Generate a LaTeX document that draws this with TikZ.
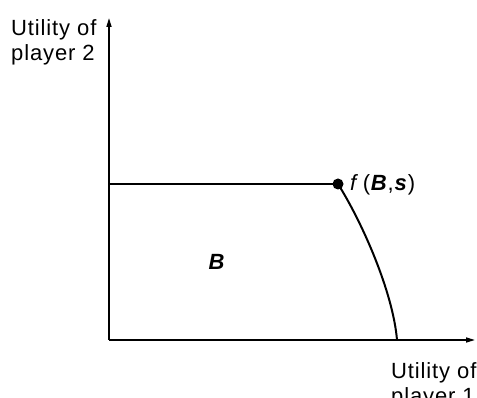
\documentclass[tikz,border=0pt]{standalone}
\usepackage{fontspec}
\setmainfont{Liberation Sans}[LetterSpace=4]
\usetikzlibrary{arrows.meta}
\begin{document}
\begin{tikzpicture}[x=1pt,y=-1pt,
  axis/.style={line width=1.5pt,-{Triangle[length=9pt,width=5pt]}},
  frontier/.style={line width=2pt},
  lbl/.style={font=\fontsize{22}{25}\selectfont,align=left,inner sep=0pt}]
\useasboundingbox (0,0) rectangle (477,398);
\coordinate (O) at (109,340);
\coordinate (ytip) at (109,18);
\coordinate (xtip) at (475,340);
\coordinate (ystart) at (109,184);
\coordinate (xend) at (397,340);
\draw[axis] (O) -- (ytip);
\draw[axis] (O) -- (xtip);
\node[circle,fill=black,inner sep=0pt,minimum size=11pt] (dot) at (338,184) {};
\draw[frontier] (ystart) -- (dot.center);
\draw[frontier] (dot.center) .. controls (362,222) and (393,292) .. (xend);
\node[lbl,anchor=base west] (flab) at (350,191) {\textit{f}\,(\textbf{\textit{B}},\textbf{\textit{s}})};
\node[lbl,anchor=center] (B) at (217,262) {\textbf{\textit{B}}};
\node[lbl,anchor=base west] (ylab) at (11,61) {Utility of\\player 2};
\node[lbl,anchor=base west] (xlab) at (391,403) {Utility of\\player 1};
\end{tikzpicture}
\end{document}
